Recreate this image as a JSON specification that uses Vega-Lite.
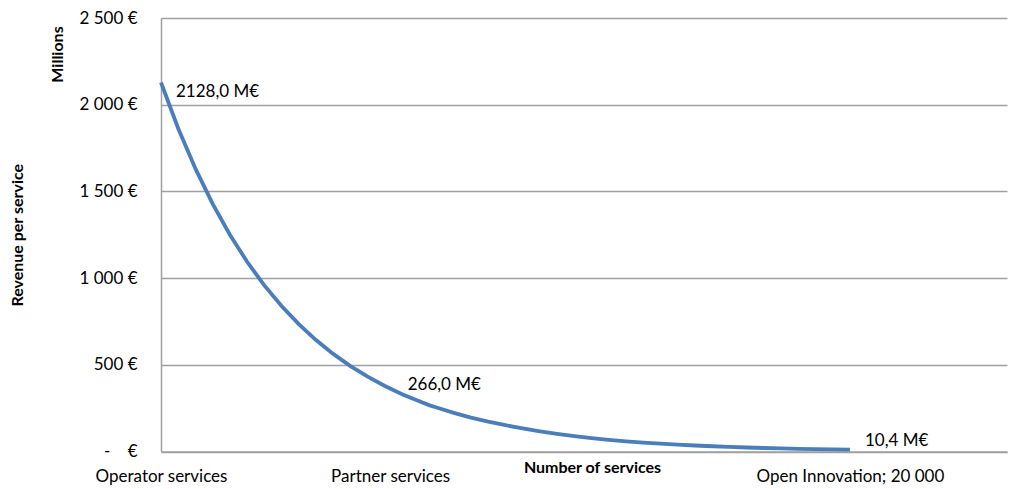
{
  "$schema": "https://vega.github.io/schema/vega-lite/v6.json",
  "width": 846,
  "height": 433.5,
  "autosize": {"type": "none"},
  "padding": {"left": 161, "top": 18, "right": 4, "bottom": 37.5},
  "background": "white",
  "config": {
    "font": "Lato",
    "view": {"stroke": null},
    "axis": {
      "labelFont": "Lato",
      "labelFontSize": 17,
      "labelColor": "#000000",
      "labelLimit": 0,
      "titleFont": "Lato",
      "titleFontWeight": "bold",
      "titleFontSize": 16,
      "titleColor": "#000000",
      "domainColor": "#a0a0a0",
      "domainWidth": 1.5,
      "gridColor": "#a0a0a0",
      "gridWidth": 1.4,
      "ticks": false
    }
  },
  "data": {
    "values": [
      {"n": 0, "rev": 2128.0, "note": "2128,0 M€"},
      {"n": 500, "rev": 1863.0},
      {"n": 1000, "rev": 1631.0},
      {"n": 1500, "rev": 1427.9},
      {"n": 2000, "rev": 1250.0},
      {"n": 2500, "rev": 1094.3},
      {"n": 3000, "rev": 958.1},
      {"n": 3500, "rev": 838.7},
      {"n": 4000, "rev": 734.3},
      {"n": 4500, "rev": 642.8},
      {"n": 5000, "rev": 562.8},
      {"n": 5500, "rev": 492.7},
      {"n": 6000, "rev": 431.3},
      {"n": 6500, "rev": 377.6},
      {"n": 7000, "rev": 330.6},
      {"n": 7500, "rev": 289.4},
      {"n": 7800, "rev": 266.0, "note": "266,0 M€"},
      {"n": 8000, "rev": 253.4},
      {"n": 8500, "rev": 222.5},
      {"n": 9000, "rev": 195.5},
      {"n": 9500, "rev": 172.0},
      {"n": 10000, "rev": 151.5},
      {"n": 10500, "rev": 133.0},
      {"n": 11000, "rev": 116.5},
      {"n": 11500, "rev": 101.5},
      {"n": 12000, "rev": 88.5},
      {"n": 12500, "rev": 77.0},
      {"n": 13000, "rev": 67.0},
      {"n": 13500, "rev": 58.7},
      {"n": 14000, "rev": 51.4},
      {"n": 14500, "rev": 45.0},
      {"n": 15000, "rev": 39.4},
      {"n": 15500, "rev": 34.5},
      {"n": 16000, "rev": 30.2},
      {"n": 16500, "rev": 26.4},
      {"n": 17000, "rev": 23.1},
      {"n": 17500, "rev": 20.2},
      {"n": 18000, "rev": 17.7},
      {"n": 18500, "rev": 15.5},
      {"n": 19000, "rev": 13.6},
      {"n": 19500, "rev": 11.9},
      {"n": 20000, "rev": 10.4, "note": "10,4 M€"}
    ]
  },
  "encoding": {
    "x": {
      "field": "n",
      "type": "quantitative",
      "scale": {"domain": [0, 24560], "nice": false, "zero": true},
      "axis": {
        "values": [0, 6650, 20000],
        "labelExpr": "datum.value == 0 ? 'Operator services' : datum.value == 20000 ? 'Open Innovation; 20 000' : 'Partner services'",
        "labelFlush": false,
        "labelOverlap": false,
        "labelPadding": 17,
        "grid": false,
        "title": "Number of services",
        "titleX": 431,
        "titleY": 15.5,
        "titleAlign": "center",
        "titleBaseline": "middle"
      }
    },
    "y": {
      "field": "rev",
      "type": "quantitative",
      "scale": {"domain": [0, 2500], "nice": false}
    }
  },
  "layer": [
    {
      "mark": {"type": "line", "color": "#4a7ebb", "strokeWidth": 3.8, "strokeCap": "butt"},
      "encoding": {
        "y": {
          "field": "rev",
          "type": "quantitative",
          "scale": {"domain": [0, 2500], "nice": false},
          "axis": {
            "orient": "left",
            "values": [0, 500, 1000, 1500, 2000, 2500],
            "labelExpr": "datum.value == 0 ? '-\u00a0\u00a0\u00a0\u00a0€' : replace(format(datum.value, ',d'), ',', ' ') + ' €'",
            "labelPadding": 24,
            "grid": true,
            "title": "Revenue per service",
            "titleX": -144,
            "titleY": 216.75,
            "titleAngle": -90,
            "titleAlign": "center",
            "titleBaseline": "middle"
          }
        }
      }
    },
    {
      "transform": [{"filter": "datum.n == 0"}],
      "mark": {"type": "text", "align": "left", "baseline": "middle", "dx": 15, "dy": 9, "fontSize": 17, "color": "#000000"},
      "encoding": {
        "text": {"field": "note"},
        "y": {
          "field": "rev",
          "type": "quantitative",
          "scale": {"domain": [0, 2500], "nice": false},
          "axis": {
            "orient": "left",
            "labels": false,
            "domain": false,
            "grid": false,
            "title": "Millions",
            "titleX": -104,
            "titleY": 36,
            "titleAngle": -90,
            "titleAlign": "center",
            "titleBaseline": "middle"
          }
        }
      }
    },
    {
      "transform": [{"filter": "datum.n == 7800"}],
      "mark": {"type": "text", "align": "left", "baseline": "middle", "dx": -22, "dy": -20, "fontSize": 17, "color": "#000000"},
      "encoding": {
        "text": {"field": "note"},
        "y": {"field": "rev", "type": "quantitative", "scale": {"domain": [0, 2500], "nice": false}, "axis": null}
      }
    },
    {
      "transform": [{"filter": "datum.n == 20000"}],
      "mark": {"type": "text", "align": "left", "baseline": "middle", "dx": 15, "dy": -9, "fontSize": 17, "color": "#000000"},
      "encoding": {
        "text": {"field": "note"},
        "y": {"field": "rev", "type": "quantitative", "scale": {"domain": [0, 2500], "nice": false}, "axis": null}
      }
    }
  ],
  "resolve": {"axis": {"y": "independent"}}
}
